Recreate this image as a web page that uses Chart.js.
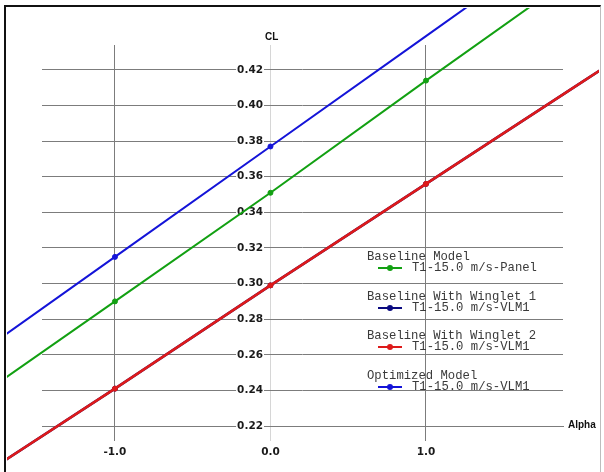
<!DOCTYPE html>
<html>
<head>
<meta charset="utf-8">
<script src="https://cdn.jsdelivr.net/npm/chart.js@4"></script>
<style>
  body { margin: 0; background: #fff; }
  #wrap { position: relative; width: 604px; height: 472px; overflow: hidden; }
  #frame { position: absolute; left: 4px; top: 5px; width: 594px; height: 480px;
           border-left: 2px solid #111; border-top: 2px solid #111; border-right: 1px solid #bdbdbd;
           pointer-events: none; }
  .axTitle { position: absolute; font: bold 10px "Liberation Sans", Arial, sans-serif; color: #111; line-height: 12px; }
  #legend { position: absolute; left: 367px; top: 0; font: 12.25px "Liberation Mono", "Courier New", monospace; color: #3a3a3a; }
  .entry { position: absolute; left: 0; width: 200px; height: 30px; }
  .entry .name { position: absolute; left: 0; top: 0; line-height: 14px; white-space: pre; }
  .entry .run { position: absolute; left: 45px; top: 11px; line-height: 14px; white-space: pre; }
  .entry .sample { position: absolute; left: 11px; top: 17px; width: 24px; height: 2px; }
  .entry .dot { position: absolute; left: 9px; top: -2px; width: 6px; height: 6px; border-radius: 3px; }
</style>
</head>
<body>
<div id="wrap">
  <canvas id="grafico" width="604" height="472"></canvas>
  <div class="axTitle" style="left:265px; top:31px;">CL</div>
  <div class="axTitle" style="left:568px; top:419px;">Alpha</div>
  <div id="legend"></div>
  <div id="frame"></div>
</div>
<script>
// alpha en orden descendente para que Chart.js dibuje todos los puntos (tambien fuera de la escala)
const alphaValues = [3, 2, 1, 0, -1, -2];
const clPanel = [0.538, 0.476, 0.414, 0.351, 0.290, 0.229];
const clWinglet1 = [0.470, 0.413, 0.356, 0.299, 0.241, 0.184];
const clWinglet2 = [0.470, 0.413, 0.356, 0.299, 0.241, 0.184];
const clOptimized = [0.563, 0.501, 0.439, 0.377, 0.315, 0.253];

const alphaTicks = [-1, 0, 1];
const clTicks = [0.22, 0.24, 0.26, 0.28, 0.30, 0.32, 0.34, 0.36, 0.38, 0.40, 0.42];

const modelNames = ["Baseline Model", "Baseline With Winglet 1", "Baseline With Winglet 2", "Optimized Model"];
const runNames = ["T1-15.0 m/s-Panel", "T1-15.0 m/s-VLM1", "T1-15.0 m/s-VLM1", "T1-15.0 m/s-VLM1"];
const colores = ["#12a012", "#0a0a80", "#dd1a1a", "#1414d8"];
const grosor = [2, 2.5, 2.5, 2];
const series = [clPanel, clWinglet1, clWinglet2, clOptimized];
const orden = [1, 3, 0, 2];

function puntos(valores) {
  return alphaValues.map((a, i) => ({ x: a, y: valores[i] }));
}

const datasets = series.map((s, i) => ({
  label: modelNames[i],
  data: puntos(s),
  borderColor: colores[i],
  backgroundColor: colores[i],
  borderWidth: grosor[i],
  pointRadius: 2.5,
  pointBorderWidth: 1,
  tension: 0,
  order: orden[i],
  clip: { left: 35, top: 37, right: 36, bottom: 31 }
}));

const tickFont = { family: "DejaVu Sans", size: 10.5, weight: "bold" };

const ctx = document.getElementById("grafico").getContext("2d");
const grafico = new Chart(ctx, {
  type: "line",
  data: { datasets: datasets },
  options: {
    animation: false,
    responsive: false,
    devicePixelRatio: 1,
    layout: { padding: { left: 42, top: 45, right: 41, bottom: 31 } },
    plugins: { legend: { display: false }, tooltip: { enabled: false } },
    scales: {
      x: {
        type: "linear",
        min: -1.469,
        max: 1.881,
        position: { y: 0.22 },
        afterBuildTicks: (scale) => { scale.ticks = alphaTicks.map(v => ({ value: v })); },
        grid: {
          drawTicks: false,
          color: (c) => (c.tick && c.tick.value === 0 ? "#d6d6d6" : "#7c7c7c"),
          lineWidth: 1
        },
        border: { display: true, color: "#7c7c7c", width: 1 },
        ticks: {
          padding: 20,
          color: "#1a1a1a",
          font: tickFont,
          maxRotation: 0,
          callback: (v) => Number(v).toFixed(1)
        }
      },
      y: {
        type: "linear",
        min: 0.2116,
        max: 0.434,
        position: { x: -0.048 },
        afterBuildTicks: (scale) => { scale.ticks = clTicks.map(v => ({ value: v })); },
        grid: { drawTicks: false, color: "#7c7c7c", lineWidth: 1 },
        border: { display: false },
        ticks: {
          padding: 0,
          color: "#1a1a1a",
          font: tickFont,
          showLabelBackdrop: true,
          backdropColor: "#ffffff",
          backdropPadding: { left: 1, right: 1, top: 0, bottom: 0 },
          callback: (v) => Number(v).toFixed(2)
        }
      }
    }
  }
});

// leyenda propia dentro del area del grafico
const leyenda = document.getElementById("legend");
modelNames.forEach((nombre, i) => {
  const e = document.createElement("div");
  e.className = "entry";
  e.style.top = (250 + i * 39.5) + "px";
  e.innerHTML = `
    <div class="name">${nombre}</div>
    <div class="sample" style="background:${colores[i]}"><div class="dot" style="background:${colores[i]}"></div></div>
    <div class="run">${runNames[i]}</div>
  `;
  leyenda.appendChild(e);
});
</script>
</body>
</html>
